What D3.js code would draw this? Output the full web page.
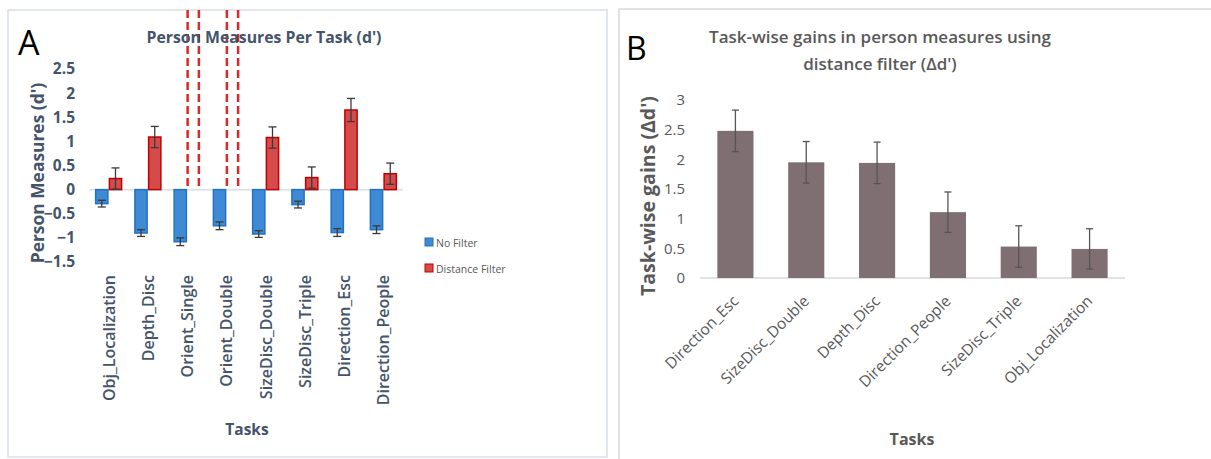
<!DOCTYPE html>
<html>
<head>
<meta charset="utf-8">
<script src="https://cdn.jsdelivr.net/npm/d3@7"></script>
<style>
  body { margin: 0; background: #fff; }
  svg { display: block; font-family: 'Open Sans', sans-serif; }
</style>
</head>
<body>
<svg id="chart" width="1211" height="459"></svg>
<script>
// Panel A : d' par tâche
const tasksA = ['Obj_Localization', 'Depth_Disc', 'Orient_Single', 'Orient_Double',
  'SizeDisc_Double', 'SizeDisc_Triple', 'Direction_Esc', 'Direction_People'];
const seriesA = ['No Filter', 'Distance Filter'];
const noFilter = [-0.29, -0.9, -1.08, -0.75, -0.92, -0.31, -0.89, -0.83];
const noFilterErr = [0.07, 0.07, 0.08, 0.08, 0.07, 0.07, 0.08, 0.08];
const distFilter = [0.23, 1.09, null, null, 1.08, 0.25, 1.65, 0.33];
const distFilterErr = [0.22, 0.22, null, null, 0.22, 0.22, 0.24, 0.22];
const ticksA = [-1.5, -1, -0.5, 0, 0.5, 1, 1.5, 2, 2.5];

// Panel B : gains par tâche
const tasksB = ['Direction_Esc', 'SizeDisc_Double', 'Depth_Disc', 'Direction_People',
  'SizeDisc_Triple', 'Obj_Localization'];
const gains = [2.48, 1.95, 1.94, 1.11, 0.53, 0.49];
const gainsErr = [0.35, 0.35, 0.35, 0.34, 0.35, 0.34];
const ticksB = [0, 0.5, 1, 1.5, 2, 2.5, 3];

const svg = d3.select('#chart');
const slate = '#44546a';
const grey = '#595959';

// ---------- Panel A ----------
const gA = svg.append('g');

gA.append('rect')
  .attr('x', 8).attr('y', 10).attr('width', 599).attr('height', 447)
  .attr('fill', 'none').attr('stroke', '#d8dfe7').attr('stroke-width', 1.5);

gA.append('text')
  .attr('x', 18).attr('y', 55)
  .style('font-size', '34px').style('fill', '#000')
  .text('A');

const yA = d3.scaleLinear().domain([-1.5, 2.5]).range([262, 69]);
const x0 = d3.scaleBand().domain(tasksA).range([89, 403]).paddingInner(0.3).paddingOuter(0.15);
const x1 = d3.scaleBand().domain(seriesA).range([0, x0.bandwidth()]);
const colA = d3.scaleOrdinal().domain(seriesA).range(['#3f8ad4', '#d54b4b']);
const strokeA = d3.scaleOrdinal().domain(seriesA).range(['#2371c2', '#c00000']);

// Axe Y (labels seulement)
gA.append('g')
  .attr('transform', 'translate(78,0)')
  .call(d3.axisLeft(yA).tickValues(ticksA).tickSize(0).tickFormat(d3.format('')))
  .call(g => g.select('.domain').remove())
  .selectAll('text')
  .style('font-size', '15.5px').style('font-weight', '700').style('fill', slate)
  .style('font-family', "'Open Sans', sans-serif");

// Ligne zéro
gA.append('line')
  .attr('x1', 89).attr('x2', 403).attr('y1', yA(0)).attr('y2', yA(0))
  .attr('stroke', '#d6e0ea').attr('stroke-width', 1.5);

const rowsA = tasksA.map((t, i) => ({
  task: t,
  vals: [
    { s: seriesA[0], v: noFilter[i], e: noFilterErr[i] },
    { s: seriesA[1], v: distFilter[i], e: distFilterErr[i] }
  ]
}));

const groups = gA.selectAll('.grp')
  .data(rowsA)
  .join('g')
  .attr('class', 'grp')
  .attr('transform', d => `translate(${x0(d.task)},0)`);

groups.selectAll('rect')
  .data(d => d.vals.filter(v => v.v !== null))
  .join('rect')
  .attr('x', d => x1(d.s) + 0.75)
  .attr('width', x1.bandwidth() - 1.5)
  .attr('y', d => yA(Math.max(0, d.v)))
  .attr('height', d => Math.abs(yA(d.v) - yA(0)))
  .attr('fill', d => colA(d.s))
  .attr('stroke', d => strokeA(d.s))
  .attr('stroke-width', 1.5);

// Barres d'erreur
const errA = groups.selectAll('.err')
  .data(d => d.vals.filter(v => v.v !== null))
  .join('g')
  .attr('class', 'err')
  .attr('stroke', '#3a3a3a').attr('stroke-width', 1.3);

errA.append('line')
  .attr('x1', d => x1(d.s) + x1.bandwidth() / 2)
  .attr('x2', d => x1(d.s) + x1.bandwidth() / 2)
  .attr('y1', d => yA(d.v + d.e))
  .attr('y2', d => yA(d.v - d.e));

[1, -1].forEach(sign => {
  errA.append('line')
    .attr('x1', d => x1(d.s) + x1.bandwidth() / 2 - 4)
    .attr('x2', d => x1(d.s) + x1.bandwidth() / 2 + 4)
    .attr('y1', d => yA(d.v + sign * d.e))
    .attr('y2', d => yA(d.v + sign * d.e));
});

// Lignes pointillées pour les tâches sans filtre de distance
const missing = rowsA.filter(d => d.vals[1].v === null);
missing.forEach(d => {
  const left = x0(d.task) + x1(seriesA[1]);
  [left + 0.5, left + x1.bandwidth() - 2].forEach(x => {
    gA.append('line')
      .attr('x1', x).attr('x2', x)
      .attr('y1', 10).attr('y2', yA(0) - 2)
      .attr('stroke', '#e0282a').attr('stroke-width', 2.5)
      .attr('stroke-dasharray', '8,4');
  });
});

// Labels X
gA.append('g')
  .selectAll('text')
  .data(tasksA)
  .join('text')
  .attr('transform', d => `translate(${x0(d) + x0.bandwidth() / 2 + 6},275) rotate(-90)`)
  .attr('text-anchor', 'end')
  .style('font-size', '16px').style('font-weight', '600').style('fill', slate)
  .text(d => d);

// Titres
gA.append('text')
  .attr('x', 264).attr('y', 43)
  .attr('text-anchor', 'middle')
  .style('font-size', '15.8px').style('font-weight', '700').style('fill', slate)
  .text("Person Measures Per Task (d')");

gA.append('text')
  .attr('transform', 'translate(44,173) rotate(-90)')
  .attr('text-anchor', 'middle')
  .style('font-size', '17.4px').style('font-weight', '700').style('fill', slate)
  .text("Person Measures (d')");

gA.append('text')
  .attr('x', 247).attr('y', 435)
  .attr('text-anchor', 'middle')
  .style('font-size', '15.5px').style('font-weight', '700').style('fill', slate)
  .text('Tasks');

// Légende
const legA = gA.selectAll('.leg')
  .data(seriesA)
  .join('g')
  .attr('class', 'leg')
  .attr('transform', (d, i) => `translate(425,${238 + i * 26})`);

legA.append('rect')
  .attr('width', 8).attr('height', 8)
  .attr('fill', d => colA(d)).attr('stroke', d => strokeA(d)).attr('stroke-width', 1);

legA.append('text')
  .attr('x', 11).attr('y', 8.5)
  .style('font-size', '10.5px').style('fill', grey)
  .text(d => d);

// ---------- Panel B ----------
const gB = svg.append('g');

gB.append('rect')
  .attr('x', 619).attr('y', 9).attr('width', 600).attr('height', 452)
  .attr('fill', 'none').attr('stroke', '#d9d9d9').attr('stroke-width', 1.5);

gB.append('text')
  .attr('x', 626).attr('y', 60)
  .style('font-size', '32px').style('fill', '#000')
  .text('B');

const yB = d3.scaleLinear().domain([0, 3]).range([278, 100]);
const xB = d3.scaleBand().domain(tasksB).range([700, 1125]).paddingInner(0.49).paddingOuter(0.245);

gB.append('g')
  .attr('transform', 'translate(688,0)')
  .call(d3.axisLeft(yB).tickValues(ticksB).tickSize(0).tickFormat(d3.format('')))
  .call(g => g.select('.domain').remove())
  .selectAll('text')
  .style('font-size', '15px').style('fill', grey)
  .style('font-family', "'Open Sans', sans-serif");

gB.append('line')
  .attr('x1', 700).attr('x2', 1125).attr('y1', yB(0)).attr('y2', yB(0))
  .attr('stroke', '#d9d9d9').attr('stroke-width', 1.5);

const rowsB = tasksB.map((t, i) => ({ task: t, v: gains[i], e: gainsErr[i] }));

gB.selectAll('.barB')
  .data(rowsB)
  .join('rect')
  .attr('class', 'barB')
  .attr('x', d => xB(d.task))
  .attr('width', xB.bandwidth())
  .attr('y', d => yB(d.v))
  .attr('height', d => yB(0) - yB(d.v))
  .attr('fill', '#806f72');

const errB = gB.selectAll('.errB')
  .data(rowsB)
  .join('g')
  .attr('class', 'errB')
  .attr('stroke', '#555').attr('stroke-width', 1.3);

errB.append('line')
  .attr('x1', d => xB(d.task) + xB.bandwidth() / 2)
  .attr('x2', d => xB(d.task) + xB.bandwidth() / 2)
  .attr('y1', d => yB(d.v + d.e))
  .attr('y2', d => yB(d.v - d.e));

[1, -1].forEach(sign => {
  errB.append('line')
    .attr('x1', d => xB(d.task) + xB.bandwidth() / 2 - 3.5)
    .attr('x2', d => xB(d.task) + xB.bandwidth() / 2 + 3.5)
    .attr('y1', d => yB(d.v + sign * d.e))
    .attr('y2', d => yB(d.v + sign * d.e));
});

gB.append('g')
  .selectAll('text')
  .data(tasksB)
  .join('text')
  .attr('transform', d => `translate(${xB(d) + xB.bandwidth() / 2 + 4},302) rotate(-45)`)
  .attr('text-anchor', 'end')
  .style('font-size', '15.5px').style('fill', grey)
  .text(d => d);

gB.append('text')
  .attr('x', 880).attr('y', 43)
  .attr('text-anchor', 'middle')
  .style('font-size', '17px').style('font-weight', '600').style('fill', grey)
  .text('Task-wise gains in person measures using');

gB.append('text')
  .attr('x', 880).attr('y', 70)
  .attr('text-anchor', 'middle')
  .style('font-size', '17px').style('font-weight', '600').style('fill', grey)
  .text("distance filter (\u0394d')");

gB.append('text')
  .attr('transform', 'translate(655,196) rotate(-90)')
  .attr('text-anchor', 'middle')
  .style('font-size', '19.5px').style('font-weight', '700').style('fill', grey)
  .text("Task-wise gains (\u0394d')");

gB.append('text')
  .attr('x', 912).attr('y', 445)
  .attr('text-anchor', 'middle')
  .style('font-size', '16px').style('font-weight', '700').style('fill', grey)
  .text('Tasks');
</script>
</body>
</html>
